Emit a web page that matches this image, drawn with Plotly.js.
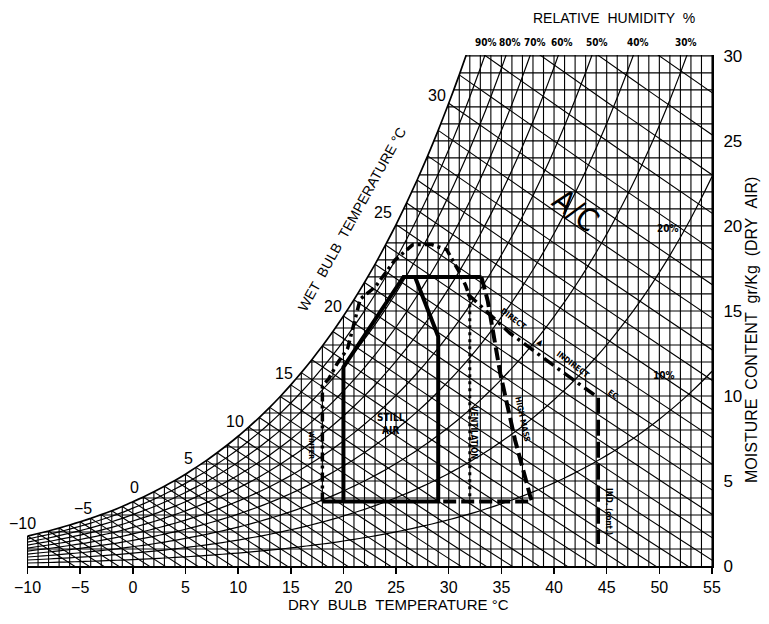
<!DOCTYPE html>
<html>
<head>
<meta charset="utf-8">
<script src="https://cdn.plot.ly/plotly-3.0.1.min.js"></script>
<style>
html,body{margin:0;padding:0;background:#fff;}
#chart{width:769px;height:624px;}
</style>
</head>
<body>
<div id="chart"></div>
<script>
// ---------------- DATA ----------------
// dry bulb temperatures (°C) of the chart grid
const dryBulb = [-10,-9,-8,-7,-6,-5,-4,-3,-2,-1,0,1,2,3,4,5,6,7,8,9,10,11,12,13,14,15,16,17,18,19,20,
  21,22,23,24,25,26,27,28,29,30,31,32,33,34,35,36,37,38,39,40,41,42,43,44,45,46,47,48,49,50,51,52,53,54,55];
// saturation moisture content (g/kg dry air) at each dry bulb temperature
const saturationW = [1.76,1.91,2.06,2.23,2.41,2.60,2.80,3.02,3.25,3.50,3.78,4.06,4.36,4.69,5.03,5.40,5.80,6.21,6.66,7.13,
  7.63,8.17,8.73,9.33,9.97,10.65,11.37,12.13,12.94,13.79,14.70,15.66,16.67,17.74,18.88,20.08,21.35,22.70,24.12,25.62,
  27.21,28.88,30.65,32.52,34.49,36.58,38.78,41.11,43.56,46.15,48.89,51.78,54.83,58.05,61.45,65.05,68.85,72.86,77.10,
  81.58,86.34,91.35,96.66,102.27,108.21,114.50];
// moisture content grid lines (g/kg)
const moistureLines = [1,2,3,4,5,6,7,8,9,10,11,12,13,14,15,16,17,18,19,20,21,22,23,24,25,26,27,28,29,30];
// relative humidity curves (%)
const rhLevels = [10,20,30,40,50,60,70,80,90];
// wet bulb lines (°C)
const wetBulbLines = [-10,-9,-8,-7,-6,-5,-4,-3,-2,-1,0,1,2,3,4,5,6,7,8,9,10,11,12,13,14,15,16,17,18,19,20,
  21,22,23,24,25,26,27,28,29,30,31,32,33,34,35,36];
// labelled wet bulb temperatures
const wetBulbLabels = [-10,-5,0,5,10,15,20,25,30];
// axis ticks
const xTicks = [-10,-5,0,5,10,15,20,25,30,35,40,45,50,55];
const yTicks = [0,5,10,15,20,25,30];
// relative humidity labels along the top
const rhTopLabels = ['90%','80%','70%','60%','50%','40%','30%'];

// design zones (dry bulb °C / moisture g/kg)
const stillAirT = [18.0,29.0,29.0,26.8,25.7,22.8,20.0,20.0, null, 26.8,33.1];
const stillAirW = [3.8,3.8,13.5,17.0,17.0,14.3,11.7,3.8, null, 17.0,17.0];
const envelopeT = [18.0,18.0,18.6,19.4,20.4,21.6,23.0,24.9,26.6,28.4,29.8,30.9,31.6,32.0];
const envelopeW = [3.8,10.6,11.0,11.9,12.8,15.7,16.4,18.0,18.9,18.9,18.6,17.4,16.5,15.8];
const ventilationT = [32.0,32.0];
const ventilationW = [15.8,3.8];
const highMassT = [33.1,33.7,34.9,36.3,37.7,37.9,29.0];
const highMassW = [17.0,15.6,11.3,7.4,4.2,3.8,3.8];
const evapT = [31.8,35.8,40.6,44.2];
const evapW = [16.0,13.7,11.5,9.9];
const indirectT = [44.2,44.2];
const indirectW = [9.9,1.3];

// ---------------- BUILD ----------------
const FONT = 'Liberation Sans, Arial, sans-serif';
const NARROW = 'Liberation Sans Narrow, DejaVu Sans Condensed, Arial Narrow, sans-serif';
const satAt = t => saturationW[dryBulb.indexOf(t)];
const T_MAX = dryBulb[dryBulb.length-1];

// wet bulb line moisture content (psychrometric relation)
function wbW(T, Twb, Ws){
  const ws = Ws/1000;
  return 1000*((2501-2.326*Twb)*ws - 1.006*(T-Twb))/(2501+1.86*T-4.186*Twb);
}

const vx=[],vy=[];
dryBulb.forEach((t,i)=>{ vx.push(t,t,null); vy.push(0, saturationW[i], null); });
const hx=[],hy=[];
moistureLines.forEach(w=>{ hx.push(dryBulb[0], T_MAX, null); hy.push(w,w,null); });
const rx=[],ry=[];
rhLevels.forEach(r=>{ dryBulb.forEach((t,i)=>{ rx.push(t); ry.push(saturationW[i]*r/100); }); rx.push(null); ry.push(null); });
const wx=[],wy=[];
wetBulbLines.forEach(tw=>{
  const ws = satAt(tw);
  const n = 12;
  for(let k=0;k<=n;k++){
    const T = tw + k*(T_MAX+2-tw)/n;
    wx.push(T); wy.push(wbW(T,tw,ws));
  }
  wx.push(null); wy.push(null);
});
// white mask above/left of the saturation curve
const mx=[],my=[];
dryBulb.forEach((t,i)=>{ if(t<=32){ mx.push(t); my.push(saturationW[i]); } });
mx.push(32,-12,-12); my.push(40,40,saturationW[0]);

const thin = {color:'#000', width:1.1};
const traces = [
  {x:vx,y:vy,mode:'lines',line:thin,hoverinfo:'skip'},
  {x:hx,y:hy,mode:'lines',line:thin,hoverinfo:'skip'},
  {x:rx,y:ry,mode:'lines',line:{color:'#000',width:1.2,shape:'spline',smoothing:0.6},hoverinfo:'skip'},
  {x:wx,y:wy,mode:'lines',line:{color:'#000',width:1.1},hoverinfo:'skip'},
  {x:mx,y:my,mode:'lines',fill:'toself',fillcolor:'#fff',line:{width:0,color:'rgba(0,0,0,0)'},hoverinfo:'skip'},
  {x:dryBulb.filter(t=>t<=32),y:saturationW.slice(0,43),mode:'lines',line:{color:'#000',width:1.7,shape:'spline',smoothing:0.5},hoverinfo:'skip'},
  // zones
  {x:stillAirT,y:stillAirW,mode:'lines',line:{color:'#000',width:4},hoverinfo:'skip'},
  {x:envelopeT,y:envelopeW,mode:'lines',line:{color:'#000',width:3.5,dash:'9px,4px,3px,4px'},hoverinfo:'skip'},
  {x:ventilationT,y:ventilationW,mode:'lines',line:{color:'#000',width:3,dash:'3px,4px'},hoverinfo:'skip'},
  {x:highMassT,y:highMassW,mode:'lines',line:{color:'#000',width:4,dash:'13px,5px'},hoverinfo:'skip'},
  {x:evapT,y:evapW,mode:'lines',line:{color:'#000',width:3.5,dash:'12px,5px,3px,5px'},hoverinfo:'skip'},
  {x:indirectT,y:indirectW,mode:'lines',line:{color:'#000',width:3.5,dash:'16px,6px'},hoverinfo:'skip'}
];

// ---------------- LAYOUT ----------------
const ML=27, MR=57, MT=55, MB=58, FW=769, FH=624;
const PW=FW-ML-MR, PH=FH-MT-MB;
function P(px,py){ return {xref:'paper',yref:'paper',x:(px-ML)/PW,y:(FH-MB-py)/PH}; }
const ann = [];
function txt(px,py,text,size,opts){
  ann.push(Object.assign(P(px,py),{text:text,showarrow:false,xanchor:'center',yanchor:'middle',
    font:{family:FONT,size:size,color:'#000'}},opts||{}));
}
// wet bulb labels, offset from saturation point
const wbShift = [[-5,13],[3,13],[2,14],[3,16],[-3,15],[-7,11],[-10,10],[-13,12],[-12,8]];
wetBulbLabels.forEach((t,i)=>{
  ann.push({x:t,y:satAt(t),xref:'x',yref:'y',text:String(t).replace('-','\u2212'),showarrow:false,
    xanchor:'center',yanchor:'middle',xshift:wbShift[i][0],yshift:wbShift[i][1],
    font:{family:FONT,size:16,color:'#000'}});
});
// RH labels top
const rhPx = [486,510,535,562,597,638,686];
rhTopLabels.forEach((s,i)=>txt(rhPx[i],42,s,10,{font:{family:NARROW,size:10,color:'#000',weight:'bold'}}));
txt(614,18,'RELATIVE&nbsp;&nbsp;HUMIDITY&nbsp;&nbsp;%',14);
txt(668,228,'20%',10,{font:{family:NARROW,size:10,color:'#000',weight:'bold'}});
txt(664,375,'10%',10,{font:{family:NARROW,size:10,color:'#000',weight:'bold'}});
// titles
txt(398,604,'DRY&nbsp;&nbsp;BULB&nbsp;&nbsp;TEMPERATURE&nbsp;°C',15);
txt(751,330,'MOISTURE&nbsp;&nbsp;CONTENT&nbsp;&nbsp;gr/Kg&nbsp;&nbsp;(DRY&nbsp;&nbsp;AIR)',16,{textangle:-90});
txt(352,219,'WET&nbsp;&nbsp;BULB&nbsp;&nbsp;TEMPERATURE&nbsp;°C',14,{textangle:-61});
// zone labels
const bold = s=>({font:{family:NARROW,size:s,color:'#000',weight:'bold'}});
txt(391,424,'STILL<br>AIR',10,bold(10));
txt(474,433,'VENTILATION',8,Object.assign({textangle:90},bold(8)));
txt(523,419,'HIGH MASS',8,Object.assign({textangle:78},bold(8)));
txt(513,318,'DIRECT',8,Object.assign({textangle:37},bold(8)));
txt(541,342,'▲',8,Object.assign({textangle:37},bold(8)));
txt(573,364,'INDIRECT',8,Object.assign({textangle:37},bold(8)));
txt(613,394,'EC',8,Object.assign({textangle:37},bold(8)));
txt(609,511,'IND. (cont.)',8,Object.assign({textangle:90},bold(8)));
txt(311,445,'WINTER',7,Object.assign({textangle:90},bold(7)));
txt(576,210,'A/C',31,{textangle:38,font:{family:NARROW,size:31,color:'#000'}});

const layout = {
  width:FW,height:FH,
  margin:{l:ML,r:MR,t:MT,b:MB,pad:0},
  paper_bgcolor:'#fff',plot_bgcolor:'#fff',
  showlegend:false,
  font:{family:FONT,color:'#000'},
  xaxis:{range:[-10.05,55],tickvals:xTicks,ticktext:xTicks.map(v=>String(v).replace('-','\u2212')),
    showgrid:false,zeroline:false,showline:true,linewidth:2,linecolor:'#000',
    ticks:'outside',ticklen:6,tickwidth:1.5,tickcolor:'#000',
    tickfont:{family:FONT,size:16,color:'#000'},fixedrange:true},
  yaxis:{range:[0,30.05],side:'right',tickvals:yTicks,showgrid:false,zeroline:false,
    showline:true,linewidth:2,linecolor:'#000',ticks:'',ticklabelstandoff:6,
    tickfont:{family:FONT,size:17,color:'#000'},fixedrange:true},
  annotations:ann
};
Plotly.newPlot('chart',traces,layout,{staticPlot:true,displayModeBar:false});
</script>
</body>
</html>
